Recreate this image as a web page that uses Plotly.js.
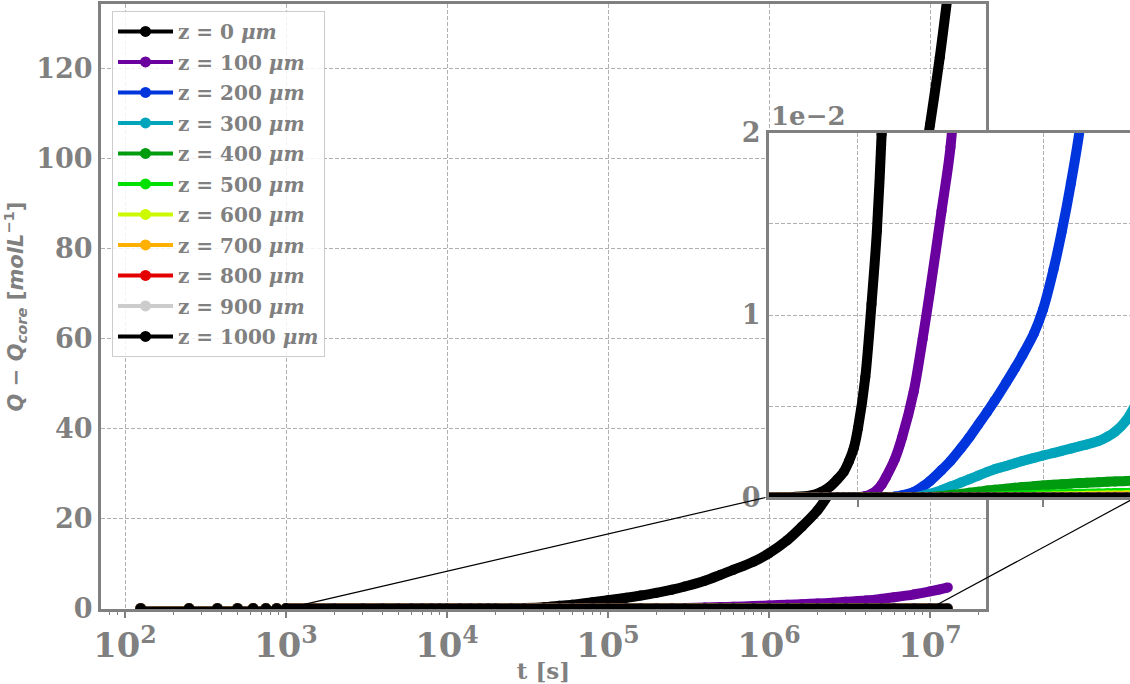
<!DOCTYPE html>
<html><head><meta charset="utf-8">
<script src="https://cdn.plot.ly/plotly-3.0.1.min.js"></script>
<style>html,body{margin:0;padding:0;background:#fff}#chart{width:1130px;height:684px}</style>
</head><body><div id="chart"></div>
<script>
// ---------------- data ----------------
const zLabels = ['0', '100', '200', '300', '400', '500', '600', '700', '800', '900', '1000'];
const colors = ['#000000', '#6a009d', '#0035dd', '#00a4bb', '#009b0f', '#00e100', '#ccf900', '#ffb000', '#e40000', '#cccccc', '#000000'];

// early, well separated sample times (s) – all curves are still zero there
const tEarly = [125, 250, 375, 500, 625, 750, 875, 1000];
const qEarly = [0, 0, 0, 0, 0, 0, 0, 0];

// later sample times (s)
const tLate = [1000, 2000, 3000, 4000, 5000, 6000, 7000, 8000, 9000,
  10000, 12000, 14000, 16000, 18000, 20000, 25000, 30000, 40000, 50000, 60000, 80000,
  100000, 130000, 160000, 200000, 250000, 300000, 400000, 500000, 600000, 800000,
  1000000, 1300000, 1600000, 2000000, 2500000, 3000000, 4000000, 5000000, 6000000, 8000000,
  10000000, 11500000, 12900000];

// Q - Q_core (mol/L) at tLate for each depth z
const q_z0 = [0, 0.00003, 0.0001, 0.0003, 0.0006, 0.001, 0.0014, 0.002, 0.0027,
  0.0038, 0.0066, 0.0106, 0.0146, 0.0199, 0.027, 0.055, 0.1, 0.28, 0.6, 0.85, 1.4,
  1.85, 2.4, 2.9, 3.5, 4.2, 4.9, 6.2, 7.5, 8.6, 10.4,
  12.3, 15.2, 18.2, 21.8, 27, 32.5, 43, 53.5, 64, 86,
  107.5, 122.5, 136.5];
const q_z100 = [0, 0, 0, 0, 0, 0, 0, 0, 0,
  0.00002, 0.00008, 0.0002, 0.0004, 0.0007, 0.0011, 0.0021, 0.0033, 0.0058, 0.0087, 0.0113, 0.0157,
  0.0192, 0.028, 0.042, 0.065, 0.1, 0.14, 0.23, 0.32, 0.4, 0.55,
  0.68, 0.85, 0.98, 1.12, 1.3, 1.5, 1.8, 2.15, 2.5, 3.15,
  3.8, 4.25, 4.7];
const q_z200 = [0, 0, 0, 0, 0, 0, 0, 0, 0,
  0, 0, 0, 0, 0, 0, 0.00005, 0.00012, 0.0003, 0.0006, 0.0009, 0.0015,
  0.002, 0.0027, 0.0033, 0.004, 0.0047, 0.0053, 0.0063, 0.0071, 0.0078, 0.009,
  0.0103, 0.0125, 0.0146, 0.0172, 0.0202, 0.024, 0.032, 0.041, 0.051, 0.072,
  0.095, 0.115, 0.135];
const q_z300 = [0, 0, 0, 0, 0, 0, 0, 0, 0,
  0, 0, 0, 0, 0, 0, 0, 0, 0, 0.0001, 0.0002, 0.0004,
  0.0006, 0.00082, 0.001, 0.0012, 0.0014, 0.00155, 0.00173, 0.00188, 0.002, 0.00217,
  0.0023, 0.00244, 0.00256, 0.00268, 0.00281, 0.00291, 0.0031, 0.00334, 0.0036, 0.00425,
  0.0051, 0.0058, 0.0066];
const q_z400 = [0, 0, 0, 0, 0, 0, 0, 0, 0,
  0, 0, 0, 0, 0, 0, 0, 0, 0, 0, 0.00003, 0.00008,
  0.00014, 0.0002, 0.00026, 0.00032, 0.00038, 0.00042, 0.00048, 0.00053, 0.00057, 0.00062,
  0.00066, 0.0007, 0.00073, 0.00076, 0.00079, 0.00081, 0.00084, 0.00086, 0.00088, 0.00091,
  0.00095, 0.001, 0.0011];
const q_z500 = [0, 0, 0, 0, 0, 0, 0, 0, 0,
  0, 0, 0, 0, 0, 0, 0, 0, 0, 0, 0, 0,
  0, 0, 0.00001, 0.00002, 0.00004, 0.00005, 0.00008, 0.0001, 0.00011, 0.00013,
  0.00015, 0.00016, 0.00018, 0.00019, 0.0002, 0.00021, 0.00022, 0.00023, 0.00024, 0.00025,
  0.00027, 0.00028, 0.0003];
const q_z600 = [0, 0, 0, 0, 0, 0, 0, 0, 0,
  0, 0, 0, 0, 0, 0, 0, 0, 0, 0, 0, 0,
  0, 0, 0, 0, 0, 0, 0, 0.00001, 0.00002, 0.00003,
  0.00004, 0.00005, 0.00006, 0.00007, 0.00008, 0.00009, 0.0001, 0.00011, 0.00011, 0.00012,
  0.00013, 0.00014, 0.00015];
const q_z700 = [0, 0, 0, 0, 0, 0, 0, 0, 0,
  0, 0, 0, 0, 0, 0, 0, 0, 0, 0, 0, 0,
  0, 0, 0, 0, 0, 0, 0, 0, 0, 0,
  0.00001, 0.00001, 0.00002, 0.00002, 0.00003, 0.00003, 0.00004, 0.00004, 0.00005, 0.00005,
  0.00006, 0.00006, 0.00007];
const q_z800 = [0, 0, 0, 0, 0, 0, 0, 0, 0,
  0, 0, 0, 0, 0, 0, 0, 0, 0, 0, 0, 0,
  0, 0, 0, 0, 0, 0, 0, 0, 0, 0,
  0, 0, 0, 0, 0, 0.00001, 0.00001, 0.00001, 0.00002, 0.00002,
  0.00002, 0.00003, 0.00003];
const q_z900 = [0, 0, 0, 0, 0, 0, 0, 0, 0,
  0, 0, 0, 0, 0, 0, 0, 0, 0, 0, 0, 0,
  0, 0, 0, 0, 0, 0, 0, 0, 0, 0,
  0, 0, 0, 0, 0, 0, 0, 0, 0, 0.00001,
  0.00001, 0.00001, 0.00001];
const q_z1000 = [0, 0, 0, 0, 0, 0, 0, 0, 0,
  0, 0, 0, 0, 0, 0, 0, 0, 0, 0, 0, 0,
  0, 0, 0, 0, 0, 0, 0, 0, 0, 0,
  0, 0, 0, 0, 0, 0, 0, 0, 0, 0,
  0, 0, 0];
const seriesQ = [q_z0, q_z100, q_z200, q_z300, q_z400, q_z500, q_z600, q_z700, q_z800, q_z900, q_z1000];

// zoomed region shown in the inset (data units of the main axes)
const zoomT = [1e3, 1e7];
const zoomQ = [0, 0.02];

// ---------------- layout helpers ----------------
const grey = '#808080';
const gridCol = '#b0b0b0';
const mainX = {range: [1.8509, 7.3478], domain: [0, 0.86006]};
const mainY = {range: [-0.1, 134.344], domain: [0, 1]};
const insX = {range: [3.0378, 6.9405], domain: [0.64917, 1]};
const insY = {range: [zoomQ[0], zoomQ[1]], domain: [0.1843, 0.7876]};
function fracLog(ax, t) { const f = (Math.log10(t) - ax.range[0]) / (ax.range[1] - ax.range[0]); return ax.domain[0] + f * (ax.domain[1] - ax.domain[0]); }
function fracLin(ax, v) { const f = (v - ax.range[0]) / (ax.range[1] - ax.range[0]); return ax.domain[0] + f * (ax.domain[1] - ax.domain[0]); }

const tickFont = {family: 'DejaVu Serif', size: 27, color: grey, weight: 'bold'};
const BAND = 10;

const traces = [];
seriesQ.forEach((q, i) => {
  traces.push({x: tLate, y: q, xaxis: 'x', yaxis: 'y', mode: 'lines+markers',
    line: {color: colors[i], width: BAND, shape: 'spline', smoothing: 0.8},
    marker: {color: colors[i], size: BAND}, showlegend: false, legendgroup: 'g' + i, hoverinfo: 'skip'});
  traces.push({x: tEarly, y: qEarly, xaxis: 'x', yaxis: 'y', mode: 'lines+markers',
    line: {color: colors[i], width: 4}, marker: {color: colors[i], size: BAND + 1},
    name: 'z = ' + zLabels[i] + ' <i>μm</i>', legendgroup: 'g' + i, showlegend: true, hoverinfo: 'skip'});
});
seriesQ.forEach((q, i) => {
  traces.push({x: tLate, y: q, xaxis: 'x2', yaxis: 'y2', mode: 'lines+markers',
    line: {color: colors[i], width: BAND, shape: 'spline', smoothing: 0.8},
    marker: {color: colors[i], size: BAND}, showlegend: false, legendgroup: 'g' + i, hoverinfo: 'skip'});
});

const layout = {
  width: 1130, height: 684,
  margin: {l: 101, r: 0, t: 4, b: 75},
  paper_bgcolor: '#ffffff', plot_bgcolor: '#ffffff',
  showlegend: true,
  xaxis: {type: 'log', range: mainX.range, domain: mainX.domain, anchor: 'y',
    showline: true, linecolor: grey, linewidth: 3, mirror: true,
    ticks: 'outside', ticklen: 6, tickwidth: 2.5, tickcolor: grey, dtick: 1,
    exponentformat: 'power', tickfont: tickFont,
    showgrid: true, gridcolor: gridCol, gridwidth: 1, griddash: '4px,2px', zeroline: false,
    minor: {ticks: 'outside', ticklen: 3, tickwidth: 1, tickcolor: grey, dtick: 'D1', showgrid: false},
    title: {text: 't [s]', font: {family: 'DejaVu Serif', size: 23, color: grey, weight: 'bold'}, standoff: 0}},
  yaxis: {range: mainY.range, domain: mainY.domain, anchor: 'x',
    showline: true, linecolor: grey, linewidth: 3, mirror: true,
    ticks: '', tick0: 0, dtick: 20, tickfont: tickFont,
    showgrid: true, gridcolor: gridCol, gridwidth: 1, griddash: '4px,2px', zeroline: false,
    title: {text: '<i>Q</i> − <i>Q</i><sub><i>core</i></sub> [<i>molL</i><sup>−1</sup>]',
      font: {family: 'DejaVu Sans', size: 21, color: grey, weight: 'bold'}, standoff: 10}},
  xaxis2: {type: 'log', range: insX.range, domain: insX.domain, anchor: 'y2',
    showline: true, linecolor: grey, linewidth: 3, mirror: true,
    tickmode: 'array', tickvals: [1e4, 1e6], showticklabels: false,
    ticks: 'outside', ticklen: 7, tickwidth: 2.5, tickcolor: grey,
    showgrid: true, gridcolor: gridCol, gridwidth: 1, griddash: '4px,2px', zeroline: false},
  yaxis2: {range: insY.range, domain: insY.domain, anchor: 'x2',
    showline: true, linecolor: grey, linewidth: 3, mirror: true,
    tickmode: 'array', tickvals: [0, 0.01, 0.02], ticktext: ['0', '1', '2'],
    ticks: '', tickfont: tickFont,
    showgrid: true, gridcolor: gridCol, gridwidth: 1, griddash: '4px,2px', zeroline: false,
    minor: {tickmode: 'array', tickvals: [0.005, 0.015], ticks: '', showgrid: true, gridcolor: gridCol, gridwidth: 1, griddash: '4px,2px'}},
  legend: {x: 0.0107, y: 0.9885, xanchor: 'left', yanchor: 'top',
    bgcolor: 'rgba(255,255,255,0.85)', bordercolor: '#cccccc', borderwidth: 1,
    font: {family: 'DejaVu Serif', size: 20, color: grey, weight: 'bold'},
    itemwidth: 55, traceorder: 'grouped', tracegroupgap: 1.5},
  shapes: [
    {type: 'line', xref: 'paper', yref: 'paper', layer: 'above',
      x0: fracLog(mainX, zoomT[0]), y0: fracLin(mainY, zoomQ[0]),
      x1: fracLog(insX, zoomT[0]), y1: fracLin(insY, zoomQ[0]), line: {color: '#000000', width: 1.2}},
    {type: 'line', xref: 'paper', yref: 'paper', layer: 'above',
      x0: fracLog(mainX, zoomT[1]), y0: fracLin(mainY, zoomQ[0]),
      x1: fracLog(insX, zoomT[1]), y1: fracLin(insY, zoomQ[0]), line: {color: '#000000', width: 1.2}}
  ],
  annotations: [
    {text: '1e−2', xref: 'paper', yref: 'paper', x: insX.domain[0], y: insY.domain[1],
      xanchor: 'left', yanchor: 'bottom', showarrow: false,
      font: {family: 'DejaVu Serif', size: 26, color: grey, weight: 'bold'}}
  ]
};

Plotly.newPlot('chart', traces, layout, {staticPlot: true, displayModeBar: false});
</script>
</body></html>
